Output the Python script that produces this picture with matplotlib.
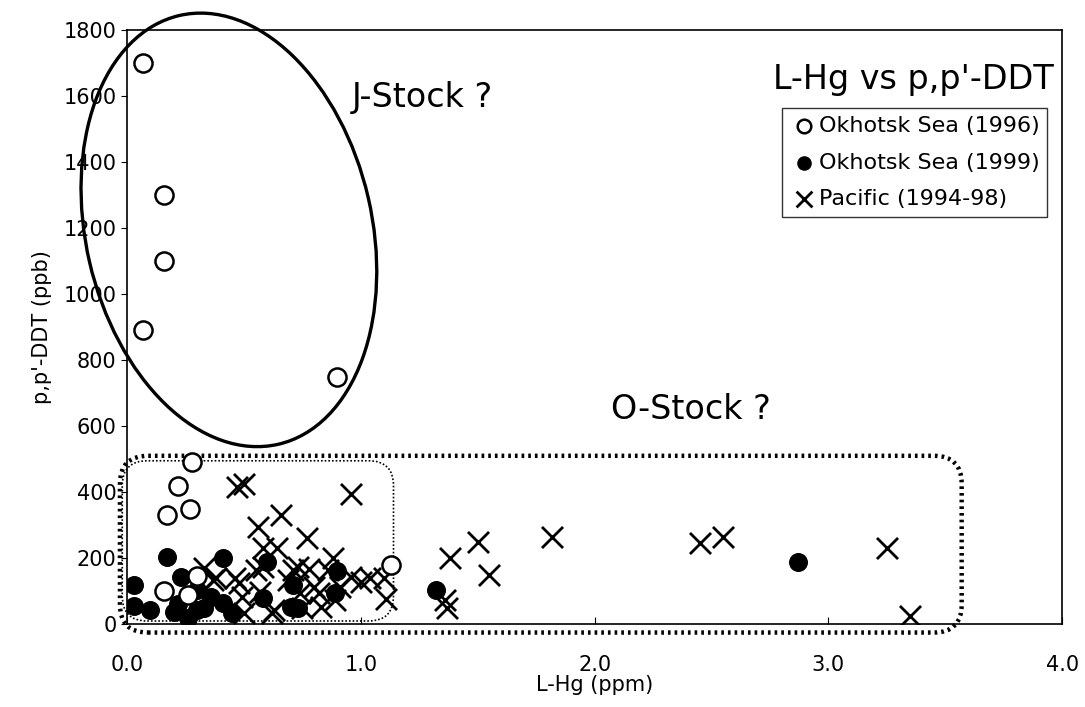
import matplotlib
matplotlib.use('Agg')
import matplotlib.pyplot as plt
from matplotlib.patches import Ellipse, FancyBboxPatch
from matplotlib.transforms import ScaledTranslation, IdentityTransform

# Okhotsk Sea (1996) - open circles
okh96_x = [0.07, 0.16, 0.16, 0.07, 0.90, 0.28, 0.22, 0.27, 0.17, 1.13, 0.16, 0.30, 0.26]
okh96_y = [1700, 1300, 1100, 890, 750, 490, 420, 350, 330, 180, 100, 145, 90]

# Okhotsk Sea (1999) - filled circles
okh99_x = [0.17, 0.41, 0.60, 0.03, 0.23, 0.03, 0.10, 0.20, 0.26, 0.30, 0.36, 0.41,
           0.30, 0.58, 0.71, 0.73, 0.70, 0.90, 0.89, 0.22, 0.33, 0.45, 1.32, 2.87]
okh99_y = [205, 200, 190, 120, 142, 55, 42, 38, 20, 105, 82, 64,
           42, 80, 118, 50, 52, 160, 95, 60, 50, 35, 103, 188]

# Pacific (1994-98) - crosses
pac_x = [0.47, 0.50, 0.96, 0.66, 0.56, 0.77, 0.58, 0.64, 0.33, 0.38, 0.46, 0.55,
         0.58, 0.71, 0.73, 0.78, 0.88, 0.86, 1.00, 1.04, 1.10, 1.11, 0.80, 0.82,
         0.89, 0.74, 0.69, 0.62, 0.50, 0.49, 0.57, 0.48, 0.83, 0.91, 0.75, 0.96,
         0.63, 0.37, 1.38, 1.50, 1.55, 1.82, 2.45, 2.55, 3.25, 3.35, 1.36, 1.37]
pac_y = [415, 425, 395, 330, 294, 262, 230, 232, 170, 139, 139, 164,
         173, 164, 173, 168, 200, 164, 127, 139, 139, 78, 112, 94,
         73, 94, 133, 33, 33, 82, 97, 124, 52, 112, 48, 142,
         42, 133, 200, 250, 150, 265, 245, 265, 230, 25, 73, 50]

x_ticks = [0, 1, 2, 3, 4]
y_ticks = list(range(0, 1801, 200))

fig = plt.figure(figsize=(10.85, 7.07), dpi=100)
ax = fig.add_axes([0.117, 0.117, 0.862, 0.841])
ax.set_xlim(0, 4)
ax.set_ylim(0, 1800)

ax.scatter(pac_x, pac_y, marker='x', s=230, c='black', linewidths=2.0, zorder=3,
           label='Pacific (1994-98)')
ax.scatter(okh99_x, okh99_y, marker='o', s=160, c='black', edgecolors='black', zorder=4,
           label='Okhotsk Sea (1999)')
ax.scatter(okh96_x, okh96_y, marker='o', s=170, facecolors='white', edgecolors='black',
           linewidths=1.8, zorder=5, label='Okhotsk Sea (1996)')

ax.set_xticks(x_ticks)
ax.set_xticklabels(['%.1f' % v for v in x_ticks])
ax.set_yticks(y_ticks)
ax.tick_params(axis='x', direction='in', length=5, labelsize=15, pad=22)
ax.tick_params(axis='y', direction='out', length=4, labelsize=15)
for sp in ax.spines.values():
    sp.set_linewidth(1.2)

ax.set_xlabel('L-Hg (ppm)', fontsize=15, labelpad=0)
ax.set_ylabel("p,p'-DDT (ppb)", fontsize=15, labelpad=8)

# J-Stock ellipse (size in inches, centred on data point)
ell = Ellipse((0, 0), 2.86, 4.40, angle=13, fill=False, lw=2.4, ec='black',
              transform=fig.dpi_scale_trans + ScaledTranslation(0.436, 1194, ax.transData),
              clip_on=False, zorder=6)
ax.add_patch(ell)

# O-Stock rounded dotted boxes, anchored on data coords
def rounded_box(x0, y0, x1, y1, pad, lw, ls):
    (px0, py0) = ax.transData.transform((x0, y0))
    (px1, py1) = ax.transData.transform((x1, y1))
    box = FancyBboxPatch((px0, py0), px1 - px0, py1 - py0,
                         boxstyle='round,pad=0,rounding_size=%d' % pad,
                         fill=False, ec='black', lw=lw, ls=ls,
                         transform=IdentityTransform(), clip_on=False, zorder=2)
    ax.add_patch(box)

rounded_box(-0.03, -25, 3.57, 510, 28, 3.2, (0, (0.6, 0.9)))
rounded_box(-0.02, 10, 1.14, 495, 25, 1.2, (0, (1, 1.2)))

ax.text(0.96, 1595, 'J-Stock ?', fontsize=24, va='center', ha='left')
ax.text(2.07, 650, 'O-Stock ?', fontsize=24, va='center', ha='left')
ax.text(3.965, 1650, "L-Hg vs p,p'-DDT", fontsize=24, va='center', ha='right')

handles, labels = ax.get_legend_handles_labels()
order = [2, 1, 0]
leg = ax.legend([handles[i] for i in order], [labels[i] for i in order],
                loc='upper right', bbox_to_anchor=(0.984, 0.868), fontsize=16,
                frameon=True, fancybox=False, edgecolor='black', handletextpad=0.0,
                borderpad=0.35, labelspacing=0.75, handlelength=1.3, borderaxespad=0,
                markerscale=0.75)
leg.get_frame().set_linewidth(1.0)

fig.savefig('out.png', dpi=100)
